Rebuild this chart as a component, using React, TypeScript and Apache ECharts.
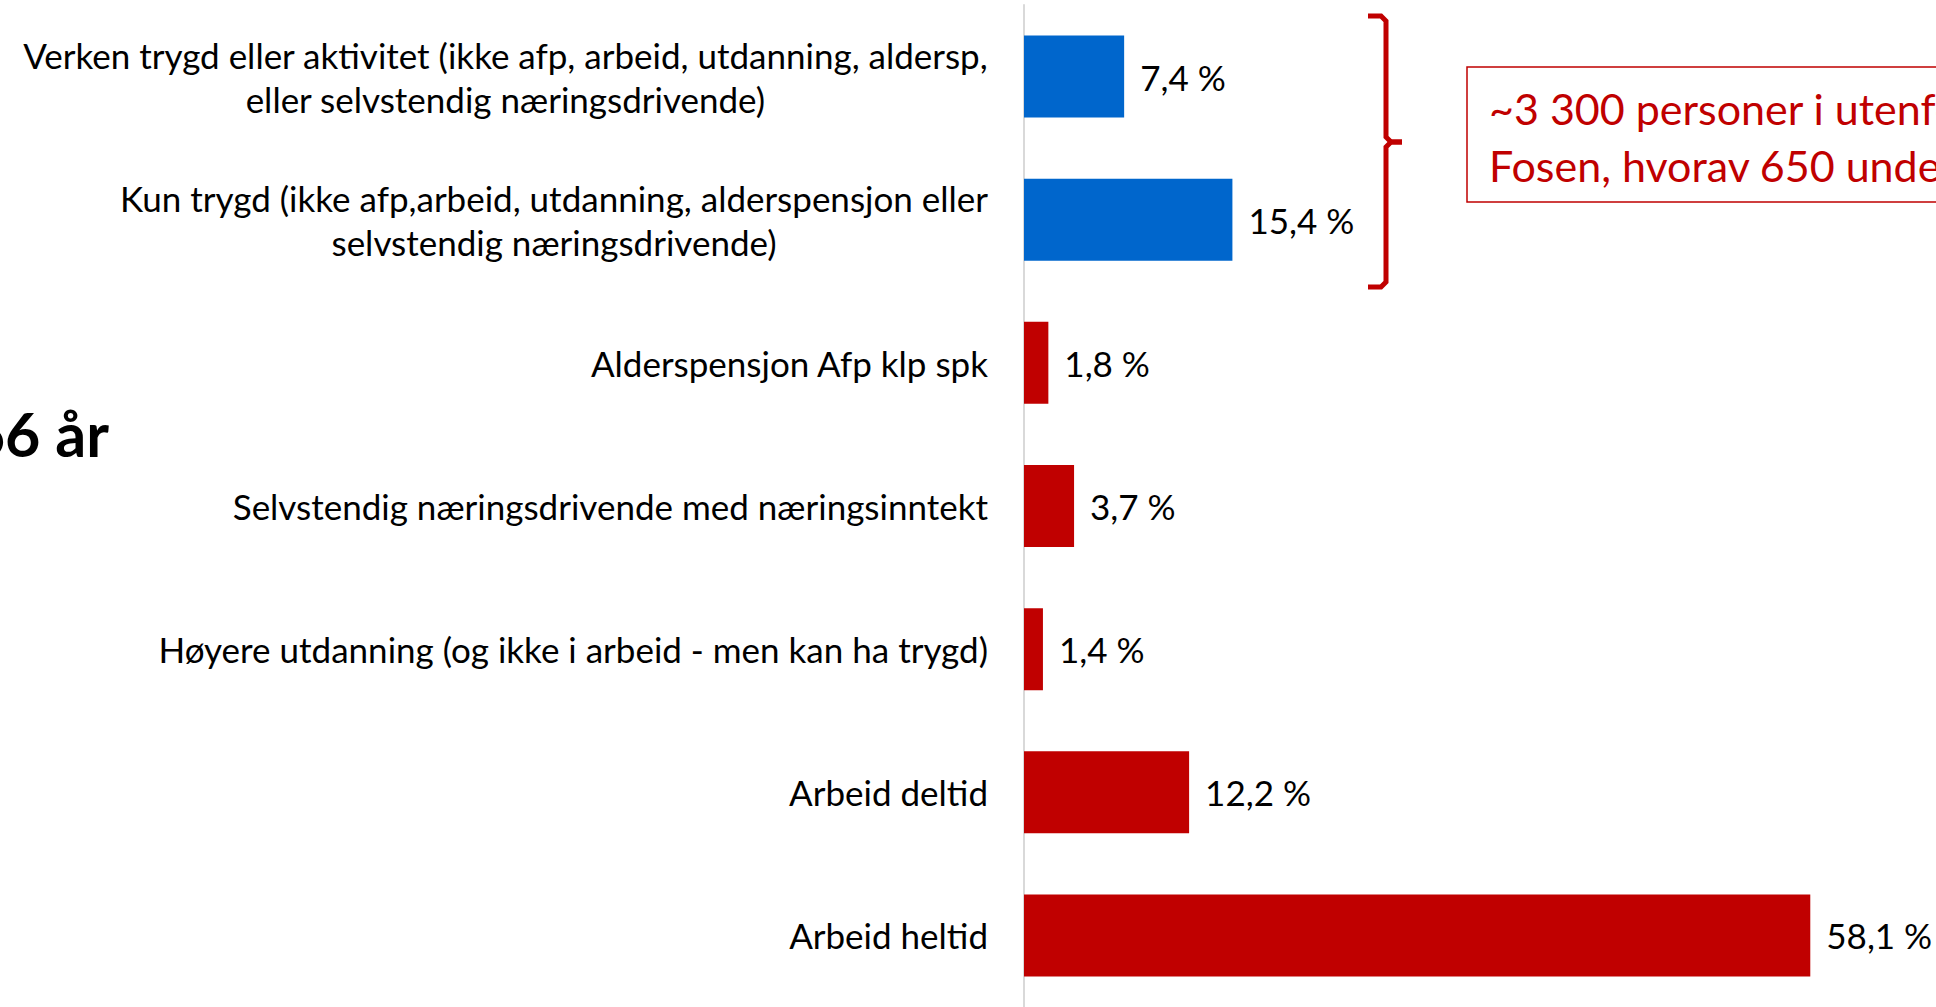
import React, { useEffect, useRef } from "react";
import * as echarts from "echarts";

const categories: string[] = [
  "Verken trygd eller aktivitet (ikke afp, arbeid, utdanning, aldersp,\neller selvstendig næringsdrivende)",
  "Kun trygd (ikke afp,arbeid, utdanning, alderspensjon eller\nselvstendig næringsdrivende)",
  "Alderspensjon Afp klp spk",
  "Selvstendig næringsdrivende med næringsinntekt",
  "Høyere utdanning (og ikke i arbeid - men kan ha trygd)",
  "Arbeid deltid",
  "Arbeid heltid",
];
const values: number[] = [7.4, 15.4, 1.8, 3.7, 1.4, 12.2, 58.1];
const groups: string[] = ["utenfor", "utenfor", "innenfor", "innenfor", "innenfor", "innenfor", "innenfor"];
const sideTitle = "66 år";
const noteLines: string[] = ["~3 300 personer i utenforskap", "Fosen, hvorav 650 under 30 år"];

const FONT = "Lato, 'Noto Sans', sans-serif";
const BLUE = "#0066CC";
const RED = "#C00000";

export default function App() {
  const ref = useRef<HTMLDivElement>(null);
  useEffect(() => {
    if (!ref.current) return;
    const chart = echarts.init(ref.current, null, { renderer: "svg" });
    const option: any = {
      animation: false,
      backgroundColor: "#ffffff",
      grid: { left: 1024, top: 5, width: 812, height: 1015, containLabel: false },
      xAxis: {
        type: "value",
        min: 0,
        max: 60,
        show: false,
      },
      yAxis: {
        type: "category",
        inverse: true,
        data: categories,
        axisLine: { show: true, lineStyle: { color: "#d9d9d9", width: 2 } },
        axisTick: { show: false },
        splitLine: { show: false },
        axisLabel: {
          margin: 36,
          fontSize: 35,
          fontFamily: FONT,
          color: "#000000",
          align: "right",
          lineHeight: 44,
          formatter: (v: string) =>
            v.indexOf("\n") >= 0
              ? v
                  .split("\n")
                  .map((l) => `{c|${l}}`)
                  .join("\n")
              : v,
          rich: {
            c: { align: "center", fontSize: 35, fontFamily: FONT, color: "#000000", lineHeight: 44 },
          },
        },
      },
      series: [
        {
          type: "bar",
          data: values.map((v, i) => ({
            value: v,
            itemStyle: { color: groups[i] === "utenfor" ? BLUE : RED },
          })),
          barWidth: 82,
          label: {
            show: true,
            position: "right",
            distance: 16,
            fontSize: 35,
            fontFamily: FONT,
            color: "#000000",
            formatter: (p: any) => `${p.value.toFixed(1).replace(".", ",")} %`,
          },
        },
      ],
      graphic: [
        {
          type: "text",
          x: 109,
          y: 464,
          style: {
            text: sideTitle,
            fontSize: 61,
            fontWeight: "bold",
            fontFamily: FONT,
            fill: "#000000",
            textAlign: "right",
            textVerticalAlign: "bottom",
          },
        },
        {
          type: "polyline",
          shape: {
            points: [
              [1368, 16],
              [1381, 16],
              [1386, 21],
              [1386, 137],
              [1391, 142],
              [1402, 142],
            ],
          },
          style: { stroke: RED, lineWidth: 5, fill: "none" },
        },
        {
          type: "polyline",
          shape: {
            points: [
              [1402, 142],
              [1391, 142],
              [1386, 147],
              [1386, 282],
              [1381, 287],
              [1368, 287],
            ],
          },
          style: { stroke: RED, lineWidth: 5, fill: "none" },
        },
        {
          type: "rect",
          shape: { x: 1467, y: 67, width: 700, height: 135 },
          style: { stroke: RED, lineWidth: 1.5, fill: "none" },
        },
        {
          type: "text",
          x: 1489,
          y: 108,
          style: {
            text: noteLines[0],
            fontSize: 43,
            fontFamily: FONT,
            fill: RED,
            textAlign: "left",
            textVerticalAlign: "middle",
          },
        },
        {
          type: "text",
          x: 1489,
          y: 165,
          style: {
            text: noteLines[1],
            fontSize: 43,
            fontFamily: FONT,
            fill: RED,
            textAlign: "left",
            textVerticalAlign: "middle",
          },
        },
      ],
    };
    chart.setOption(option);
    return () => chart.dispose();
  }, []);
  return (
    <div
      ref={ref}
      style={{ position: "fixed", left: 0, top: 0, width: 1936, height: 1007, background: "#fff" }}
    />
  );
}
